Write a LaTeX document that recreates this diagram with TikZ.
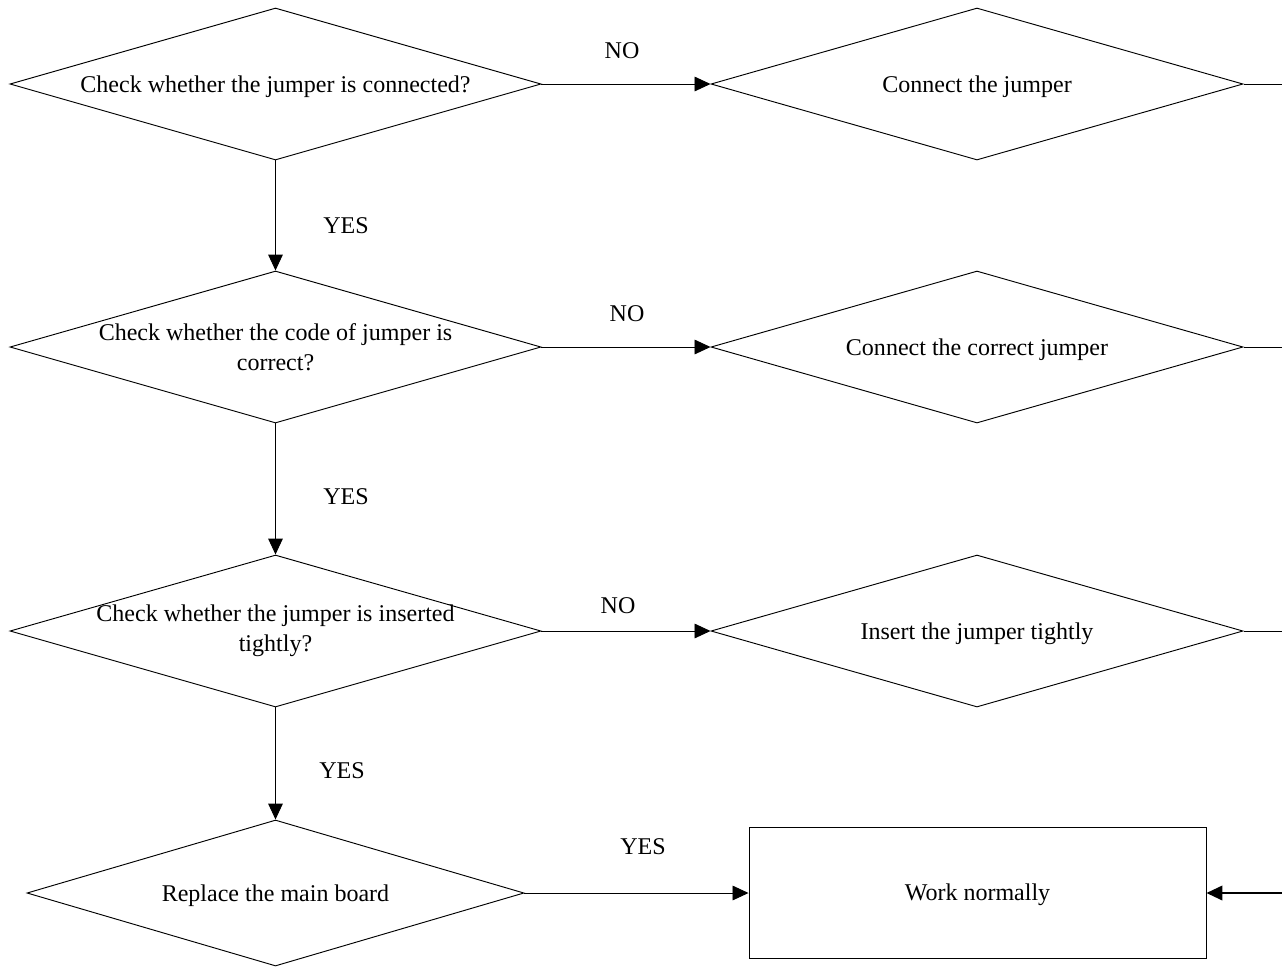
\documentclass[tikz,border=0pt]{standalone}
\usepackage{fontspec}
\setmainfont{Liberation Serif}
\usetikzlibrary{positioning,shapes.geometric}
\usetikzlibrary{arrows.meta}
\tikzset{
  check/.style={diamond,draw=black,line width=0.8pt,inner sep=-3pt,align=center,
    shape aspect=3.49,minimum width=15.93cm,minimum height=4.56cm},
  fix/.style={diamond,draw=black,line width=0.8pt,inner sep=0pt,align=center,text depth=0pt,
    shape aspect=3.5,minimum width=15.96cm,minimum height=4.56cm},
  done/.style={rectangle,draw=black,line width=0.8pt,text depth=0pt,minimum width=13.71cm,minimum height=3.93cm},
  flow/.style={draw=black,line width=0.8pt,-{Triangle[length=0.48cm,width=0.44cm]}},
  link/.style={draw=black,line width=0.8pt},
}
\tikzset{lab/.style={inner sep=0pt}}

\begin{document}
\begin{tikzpicture}[x=0.03cm,y=-0.03cm,font=\fontsize{20.5}{25.6}\selectfont]
\useasboundingbox (0,0) rectangle (1282,967);
\node[check,text depth=0pt] (q1) at (275.5,84) {Check whether the jumper is connected?};
\node[check] (q2) at (275.5,347) {Check whether the code of jumper is\\correct?};
\node[check] (q3) at (275.5,631) {Check whether the jumper is inserted\\tightly?};
\node[check,text depth=0pt,shape aspect=3.4,minimum width=14.91cm,minimum height=4.38cm] (q4) at (275.5,893) {Replace the main board};
\node[fix] (a1) at (977,84) {Connect the jumper};
\node[fix] (a2) at (977,347) {Connect the correct jumper};
\node[fix] (a3) at (977,631) {Insert the jumper tightly};
\node[done] (ok) at (977.5,892.5) {Work normally};
\coordinate (e1) at (1282,84);
\coordinate (e2) at (1282,347);
\coordinate (e3) at (1282,631);
\coordinate (e4) at (1282,893);
\draw[flow] (q1) -- (a1);
\draw[flow] (q2) -- (a2);
\draw[flow] (q3) -- (a3);
\draw[flow] (q1) -- (q2);
\draw[flow] (q2) -- (q3);
\draw[flow] (q3) -- (q4);
\draw[flow] (q4.east) -- (q4.east -| ok.west);
\draw[link] (a1) -- (e1);
\draw[link] (a2) -- (e2);
\draw[link] (a3) -- (e3);
\draw[flow,line width=1.6pt] (e4) -- (e4 -| ok.east);
\node[lab] (n1) at (622,51) {NO};
\node[lab] (n2) at (627,314) {NO};
\node[lab] (n3) at (618,606) {NO};
\node[lab] (y1) at (346,226) {YES};
\node[lab] (y2) at (346,497) {YES};
\node[lab] (y3) at (342,771) {YES};
\node[lab] (y4) at (643,847) {YES};
\end{tikzpicture}
\end{document}
